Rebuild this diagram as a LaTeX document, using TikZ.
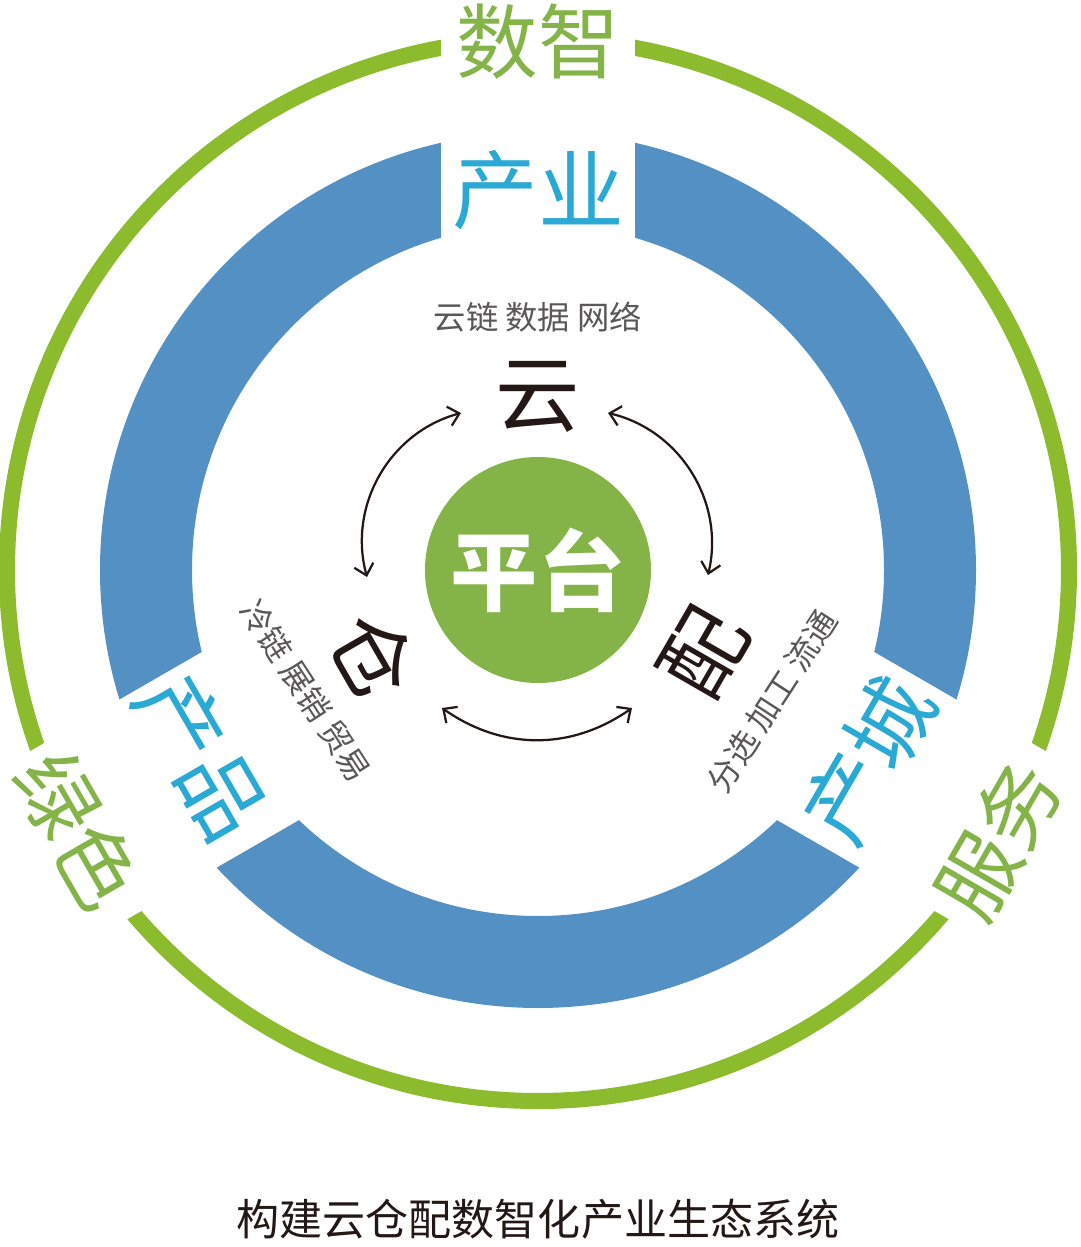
\documentclass[tikz,border=0pt]{standalone}
\usepackage{fontspec}
\setmainfont{Noto Sans CJK SC}
\usepackage{tikz}
\usetikzlibrary{arrows.meta}
\usetikzlibrary{positioning}
\tikzset{every picture/.style={semithick, >={Straight Barb[length=7.5pt,width=14pt]}}}
\definecolor{ringGreen}{HTML}{8CBB2D}
\definecolor{hubGreen}{HTML}{84B447}
\definecolor{ringBlue}{HTML}{5391C5}
\definecolor{textBlue}{HTML}{2AA9D5}
\definecolor{textGray}{HTML}{595757}
\definecolor{inkBlack}{HTML}{231815}
\tikzstyle{ringtext}=[text=hubGreen,font=\fontsize{58}{58}\selectfont,inner sep=0]
\tikzstyle{bandtext}=[text=textBlue,font=\fontsize{61}{61}\selectfont,inner sep=0]
\tikzstyle{keyword}=[text=inkBlack,font=\fontsize{60}{60}\selectfont,inner sep=0]
\tikzstyle{tag}=[text=textGray,font=\fontsize{23}{23}\selectfont,inner sep=0]
\tikzstyle{link}=[line width=1.6pt,inkBlack]

\begin{document}
\begin{tikzpicture}[x=0.025cm,y=0.025cm]
        \useasboundingbox (-538,-677) rectangle (542,570);
        % rings
        \fill [ringBlue,even odd rule] (0,0) circle (438) (0,0) circle (346);
        \draw [ringGreen,line width=11.4pt] (0,0) circle (531);
        \foreach \a in {90,210,330}
          \fill [white,rotate=\a] (300,-97) rectangle (560,97);
        % hub and its three parts
        \node [circle,fill=hubGreen,minimum size=5.65cm,inner sep=0,text=white,font=\fontsize{62}{62}\selectfont\bfseries] (hub) at (0,0) {平台};
        \node [keyword] (yun) at (0,173) {云};
        \node [keyword,rotate=-60] (cang) at (-164,-85) {仓};
        \node [keyword,rotate=60] (pei) at (166,-83) {配};
        \node [tag] (yuntag) at (0,253) {云链 数据 网络};
        \node [tag,rotate=-57] (cangtag) at (-232,-121) {冷链 展销 贸易};
        \node [tag,rotate=57] (peitag) at (234,-131) {分选 加工 流通};
        % ring labels
        \node [bandtext] (chanye) at (0,380) {产业};
        \node [bandtext,rotate=-60] (chanpin) at (-336,-187) {产品};
        \node [bandtext,rotate=60] (chancheng) at (330,-190) {产城};
        \node [ringtext] (shuzhi) at (0,528) {数智};
        \node [ringtext,rotate=-60] (lvse) at (-460,-261) {绿色};
        \node [ringtext,rotate=60] (fuwu) at (460,-270) {服务};
        \node [text=inkBlack,font=\fontsize{30.6}{30.6}\selectfont,inner sep=0] (title) at (0,-649) {构建云仓配数智化产业生态系统};
        % links
        \coordinate (yunL) at (-77,157);
        \coordinate (cangT) at (-171,-7);
        \coordinate (yunR) at (70,157);
        \coordinate (peiT) at (170,-5);
        \coordinate (cangB) at (-96,-138);
        \coordinate (peiB) at (94,-138);
        \path [link,<->,bend right=45] (yunL) edge (cangT);
        \path [link,<->,bend left=45] (yunR) edge (peiT);
        \path [link,<->,bend right=35] (cangB) edge (peiB);
\end{tikzpicture}
\end{document}
